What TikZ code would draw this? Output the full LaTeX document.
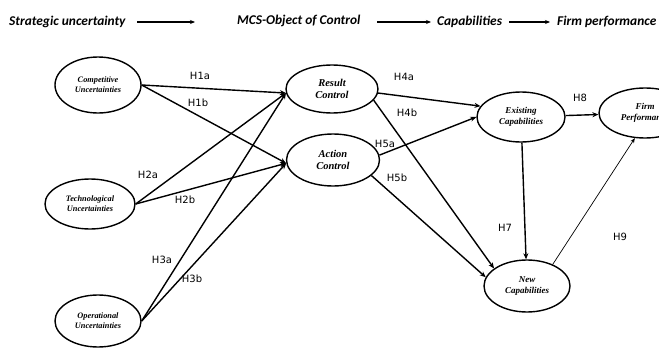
\documentclass[tikz,border=0pt]{standalone}
\usepackage{fontspec}
\setmainfont{Liberation Serif}
\newfontfamily\hdfont{Carlito}
\newfontfamily\lblfont{DejaVu Sans}
\usetikzlibrary{shapes.geometric,arrows.meta}
\begin{document}
\begin{tikzpicture}[x=1pt,y=1pt,
  constr/.style={ellipse,draw,line width=1.4pt,inner sep=0pt,align=center,font=\bfseries\itshape},
  small/.style={font=\bfseries\itshape\fontsize{8.3}{10}\selectfont},
  hyp/.style={line width=1.4pt,-{Stealth[length=6pt,width=5pt]}},
  hdr/.style={font=\hdfont\bfseries\itshape\fontsize{13.4}{15}\selectfont,inner sep=0pt},
  hdarrow/.style={line width=1.4pt,-{Stealth[length=5pt,width=4pt]}},
  lab/.style={font=\lblfont\fontsize{10}{12}\selectfont,inner sep=0pt}]
\useasboundingbox (0,0) rectangle (659,-348);
\clip (0,0) rectangle (659,-348);
% header
\node[hdr,anchor=west] (h1) at (9,-22) {Strategic uncertainty};
\node[hdr,anchor=west] (h2) at (237,-21) {MCS-Object of Control};
\node[hdr,anchor=west] (h3) at (437,-22) {Capabilities};
\node[hdr,anchor=west] (h4) at (557,-22) {Firm performance};
\coordinate (a1s) at (137,-22); \coordinate (a1e) at (195,-22);
\coordinate (a2s) at (377,-22); \coordinate (a2e) at (431,-22);
\coordinate (a3s) at (509,-22); \coordinate (a3e) at (550,-22);
\draw[hdarrow] (a1s) -- (a1e);
\draw[hdarrow] (a2s) -- (a2e);
\draw[hdarrow] (a3s) -- (a3e);
% constructs
\node[constr,small,minimum width=86pt,minimum height=56pt] (cu) at (98,-85) {Competitive\\Uncertainties};
\node[constr,small,minimum width=90pt,minimum height=50pt] (tu) at (90,-204) {Technological\\Uncertainties};
\node[constr,small,minimum width=86pt,minimum height=52pt] (ou) at (98,-321) {Operational\\Uncertainties};
\node[constr,minimum width=92pt,minimum height=48pt,font=\bfseries\itshape\fontsize{10.5}{12.5}\selectfont] (rc) at (332,-89) {Result\\Control};
\node[constr,minimum width=93pt,minimum height=52pt,font=\bfseries\itshape\fontsize{10.5}{12.5}\selectfont] (ac) at (333,-160) {Action\\Control};
\node[constr,minimum width=88pt,minimum height=50pt,font=\bfseries\itshape\fontsize{9}{11}\selectfont] (ec) at (521,-117) {Existing\\Capabilities};
\node[constr,minimum width=86pt,minimum height=52pt,font=\bfseries\itshape\fontsize{9}{11}\selectfont] (nc) at (527,-286) {New\\Capabilities};
\node[constr,minimum width=92pt,minimum height=50pt,font=\bfseries\itshape\fontsize{9}{11}\selectfont] (fp) at (645,-113) {Firm\\Performance};
% hypotheses
\draw[hyp] (cu.east) -- (rc.185);
\draw[hyp] (cu.east) -- (ac.184);
\draw[hyp] (tu.east) -- (rc.185);
\draw[hyp] (tu.east) -- (ac.184);
\draw[hyp] (ou.east) -- (rc.185);
\draw[hyp] (ou.east) -- (ac.184);
\draw[hyp] (rc.-5) -- (ec.165);
\draw[hyp] (rc.-15) -- (nc.152);
\draw[hyp] (ac.6) -- (ec.180);
\draw[hyp] (ac.-22) -- (nc.168);
\draw[hyp] (ec) -- (fp);
\draw[hyp] (ec) -- (nc);
\draw[line width=0.7pt,-{Stealth[length=5pt,width=4pt]}] (nc.40) -- (fp.-112);
% labels
\node[lab] (l1a) at (200,-76) {H1a};
\node[lab] (l1b) at (198,-103) {H1b};
\node[lab] (l2a) at (148,-175) {H2a};
\node[lab] (l2b) at (185,-200) {H2b};
\node[lab] (l3a) at (162,-260) {H3a};
\node[lab] (l3b) at (192,-279) {H3b};
\node[lab] (l4a) at (404,-77) {H4a};
\node[lab] (l4b) at (407,-113) {H4b};
\node[lab] (l5a) at (385,-144) {H5a};
\node[lab] (l5b) at (397,-178) {H5b};
\node[lab] (l7) at (505,-228) {H7};
\node[lab] (l8) at (580,-98) {H8};
\node[lab] (l9) at (620,-237) {H9};
\end{tikzpicture}
\end{document}
